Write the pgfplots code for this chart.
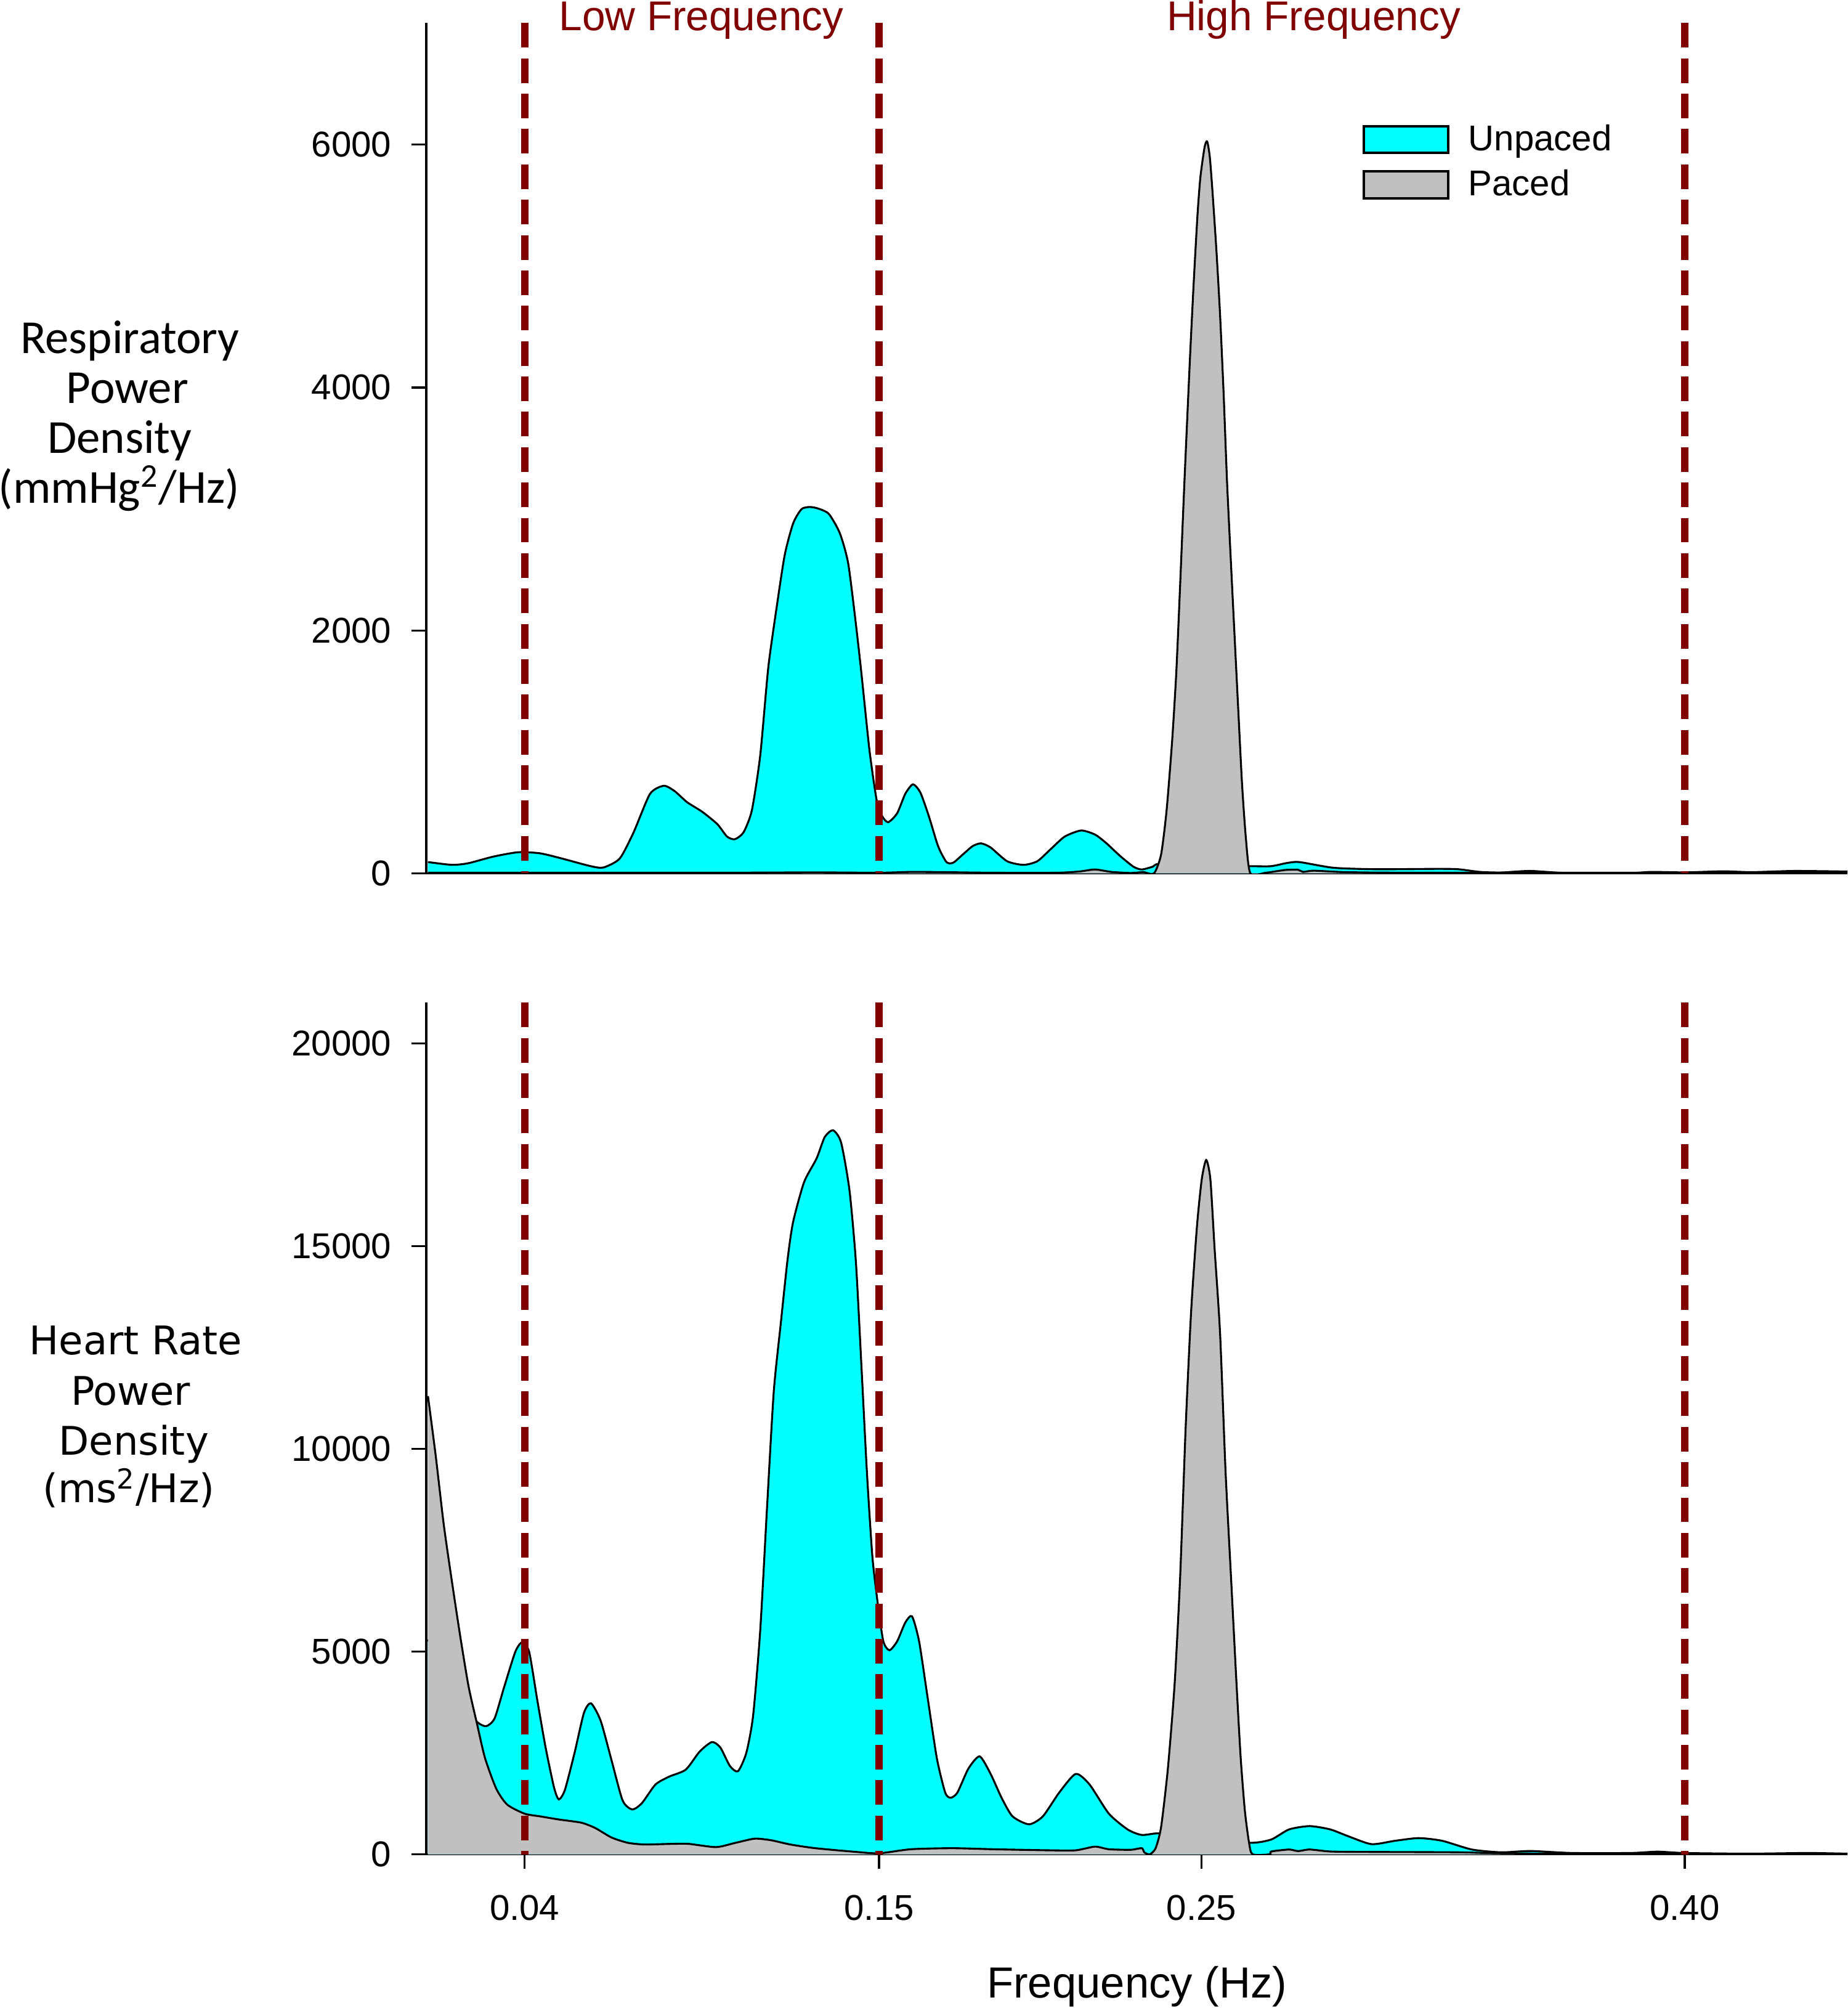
\documentclass[border=0pt]{standalone}
\usepackage{fontspec}
\setmainfont{Liberation Sans}
\newfontfamily\carlito{Carlito}
\newfontfamily\dejavu{DejaVu Sans}
\usepackage{pgfplots}
\usepackage{pgfplotstable}
\pgfplotsset{compat=1.18}
\definecolor{dred}{RGB}{128,0,0}
\definecolor{pgray}{RGB}{192,192,192}
\definecolor{ucyan}{RGB}{0,255,255}

\pgfplotstableread{
f v
0.0100 93
0.0175 70
0.0226 84
0.0303 138
0.0380 174
0.0448 165
0.0516 122
0.0602 61
0.0644 48
0.0695 122
0.0738 337
0.0789 654
0.0832 721
0.0866 676
0.0904 586
0.0951 507
0.0998 405
0.1028 303
0.1052 281
0.1079 337
0.1105 518
0.1131 970
0.1156 1693
0.1182 2190
0.1207 2620
0.1233 2880
0.1259 2998
0.1284 3016
0.1310 3004
0.1344 2959
0.1378 2801
0.1404 2552
0.1428 2050
0.1445 1648
0.1470 1015
0.1492 608
0.1509 473
0.1528 421
0.1556 495
0.1581 654
0.1605 733
0.1628 665
0.1654 473
0.1683 224
0.1709 93
0.1730 88
0.1760 156
0.1790 224
0.1816 247
0.1846 213
0.1897 100
0.1948 70
0.1991 100
0.2033 201
0.2076 303
0.2127 353
0.2170 319
0.2204 251
0.2247 145
0.2289 55
0.2315 32
0.2349 55
0.2366 77
0.2450 65
0.2550 60
0.2656 59
0.2716 59
0.2765 85
0.2804 93
0.2910 46
0.3043 34
0.3231 37
0.3297 34
0.3364 12
0.3430 7
0.3520 20
0.3631 3
0.3831 3
0.3897 12
0.4000 8
0.4119 17
0.4208 10
0.4341 20
0.4505 15
}\topU

\pgfplotstableread{
f v
0.0100 5
0.0500 5
0.1000 5
0.1300 8
0.1500 5
0.1600 12
0.1700 10
0.1850 5
0.2050 5
0.2120 15
0.2170 32
0.2220 12
0.2280 3
0.2320 10
0.2353 0
0.2375 156
0.2392 518
0.2409 1083
0.2422 1648
0.2434 2371
0.2447 3200
0.2464 4209
0.2476 4855
0.2488 5423
0.2497 5733
0.2510 5980
0.2518 6025
0.2526 5900
0.2534 5630
0.2547 5113
0.2558 4596
0.2569 3950
0.2580 3200
0.2596 2326
0.2613 1422
0.2626 744
0.2638 292
0.2652 0
0.2700 5
0.2760 28
0.2800 30
0.2815 12
0.2850 22
0.2950 10
0.3200 5
0.4505 5
}\topP

\pgfplotstableread{
f v
0.0100 5300
0.0150 4450
0.0200 3750
0.0252 3266
0.0281 3161
0.0307 3357
0.0337 4141
0.0371 4993
0.0392 5228
0.0414 4993
0.0439 3815
0.0465 2637
0.0491 1656
0.0506 1355
0.0525 1591
0.0555 2506
0.0584 3488
0.0606 3723
0.0636 3292
0.0670 2310
0.0704 1328
0.0734 1106
0.0764 1263
0.0806 1722
0.0849 1918
0.0900 2088
0.0943 2533
0.0981 2768
0.1007 2637
0.1037 2179
0.1062 2049
0.1088 2506
0.1109 3422
0.1131 5516
0.1152 8526
0.1173 11404
0.1195 13105
0.1216 14675
0.1233 15591
0.1267 16573
0.1306 17161
0.1331 17684
0.1357 17854
0.1382 17553
0.1408 16375
0.1428 14600
0.1445 12058
0.1462 9441
0.1479 7348
0.1496 6170
0.1513 5254
0.1532 5032
0.1556 5254
0.1581 5713
0.1602 5869
0.1624 5254
0.1649 3945
0.1679 2375
0.1705 1525
0.1722 1394
0.1743 1525
0.1777 2114
0.1812 2415
0.1846 1983
0.1880 1394
0.1914 936
0.1965 740
0.2008 936
0.2059 1525
0.2110 1983
0.2153 1722
0.2213 1002
0.2272 609
0.2315 478
0.2366 517
0.2450 450
0.2550 350
0.2657 284
0.2717 366
0.2772 614
0.2836 696
0.2900 614
0.2955 448
0.3028 251
0.3101 334
0.3174 400
0.3247 334
0.3339 119
0.3430 50
0.3522 82
0.3650 33
0.3833 33
0.3915 66
0.3998 33
0.4198 16
0.4381 33
0.4505 16
}\botU

\pgfplotstableread{
f v
0.0100 11300
0.0124 9834
0.0149 8133
0.0175 6693
0.0200 5385
0.0226 4141
0.0252 3226
0.0277 2375
0.0312 1617
0.0346 1225
0.0400 1002
0.0448 936
0.0508 857
0.0576 780
0.0619 649
0.0670 413
0.0721 283
0.0772 243
0.0858 258
0.0909 258
0.0994 178
0.1054 283
0.1114 386
0.1165 347
0.1224 243
0.1301 152
0.1428 60
0.1500 25
0.1598 125
0.1727 151
0.1855 125
0.2030 99
0.2110 99
0.2170 190
0.2213 125
0.2281 112
0.2315 151
0.2323 47
0.2340 0
0.2358 151
0.2375 675
0.2396 2114
0.2417 4208
0.2434 6824
0.2451 10488
0.2468 13366
0.2486 15460
0.2501 16638
0.2515 17122
0.2528 16638
0.2541 14936
0.2558 12843
0.2575 9441
0.2592 6824
0.2609 4208
0.2622 2375
0.2635 1067
0.2648 283
0.2659 0
0.2712 0
0.2717 70
0.2772 119
0.2800 80
0.2836 119
0.2900 70
0.3000 60
0.3300 50
0.3500 20
0.4505 10
}\botP

\pgfplotsset{
  common/.style={
    scale only axis, width=555pt, xmin=0.0095, xmax=0.4505, ymin=0,
    axis x line=bottom, axis y line=left,
    axis line style={-, line width=0.8pt, black},
    tick align=outside, major tick length=5.75pt,
    tick style={line width=0.8pt, black},
    scaled y ticks=false, scaled x ticks=false,
    tick label style={font=\fontsize{14}{16}\selectfont},
    yticklabel style={inner sep=0pt, anchor=east, xshift=-7.75pt},
    xticklabel style={inner sep=0pt, anchor=north, yshift=-10pt},
  },
  fillU/.style={fill=ucyan, draw=none},
  fillP/.style={fill=pgray, draw=none},
  edge/.style={black, line width=0.75pt, forget plot},
  band/.style={dred, line width=2.8pt, dash pattern=on 9.6pt off 4.2pt, forget plot},
}

\begin{document}
\begin{tikzpicture}
\useasboundingbox (0,0) rectangle (721.5pt,784pt);

\begin{axis}[common, at={(166.5pt,443pt)}, anchor=south west, height=332pt,
  ymax=7000, ytick={0,2000,4000,6000}, yticklabels={0,2000,4000,6000},
  xtick=\empty,
  legend style={draw=none, fill=none, at={(0.6586,0.8804)}, anchor=north west,
    inner sep=0pt, outer sep=0pt, row sep=6pt, column sep=7.4pt,
    font=\fontsize{14}{16}\selectfont, nodes={inner sep=0pt}},
  legend cell align=left,
  legend image code/.code={\draw[#1, draw=black, line width=1pt] (0pt,-5.2pt) rectangle (33pt,5.2pt);},
]
\addplot[fillU, smooth, tension=0.4] table[x=f,y=v]{\topU} \closedcycle;
\addlegendentry{Unpaced}
\addplot[edge, smooth, tension=0.4] table[x=f,y=v]{\topU};
\addplot[fillP, smooth, tension=0.4] table[x=f,y=v]{\topP} \closedcycle;
\addlegendentry{Paced}
\addplot[edge, smooth, tension=0.4] table[x=f,y=v]{\topP};
\addplot[band] coordinates {(0.04,7000) (0.04,0)};
\addplot[band] coordinates {(0.15,7000) (0.15,0)};
\addplot[band] coordinates {(0.40,7000) (0.40,0)};
\end{axis}

\begin{axis}[common, at={(166.5pt,60pt)}, anchor=south west, height=332.5pt,
  ymax=21000, ytick={0,5000,10000,15000,20000}, yticklabels={0,5000,10000,15000,20000},
  xtick={0.04,0.15,0.25,0.40}, xticklabels={0.04,0.15,0.25,0.40},
  xlabel={Frequency (Hz)},
  xlabel style={font=\fontsize{17}{20}\selectfont, at={(axis description cs:0.5,0)}, anchor=base, yshift=-56pt, inner sep=0pt},
]
\addplot[fillU, smooth, tension=0.4] table[x=f,y=v]{\botU} \closedcycle;
\addplot[edge, smooth, tension=0.4] table[x=f,y=v]{\botU};
\addplot[fillP, smooth, tension=0.4] table[x=f,y=v]{\botP} \closedcycle;
\addplot[edge, smooth, tension=0.4] table[x=f,y=v]{\botP};
\addplot[band] coordinates {(0.04,21000) (0.04,0)};
\addplot[band] coordinates {(0.15,21000) (0.15,0)};
\addplot[band] coordinates {(0.40,21000) (0.40,0)};
\end{axis}

\begin{scope}[every node/.style={inner sep=0pt, anchor=base}]
\node[text=dred, font=\fontsize{16.25}{18}\selectfont] at (273.85pt,772pt) {Low Frequency};
\node[text=dred, font=\fontsize{16.25}{18}\selectfont] at (513pt,772pt) {High Frequency};
\node[font=\carlito\fontsize{18.5}{22}\selectfont] at (50.75pt,646pt) {Respiratory};
\node[font=\carlito\fontsize{18.5}{22}\selectfont] at (49.75pt,626.5pt) {Power};
\node[font=\carlito\fontsize{18.5}{22}\selectfont] at (46.75pt,607pt) {Density};
\node[font=\carlito\fontsize{18.5}{22}\selectfont] at (46.5pt,587.5pt) {(mmHg\textsuperscript{2}/Hz)};
\node[font=\dejavu\fontsize{15.4}{18}\selectfont] at (53pt,255pt) {Heart Rate};
\node[font=\dejavu\fontsize{15.4}{18}\selectfont] at (51pt,235.5pt) {Power};
\node[font=\dejavu\fontsize{15.4}{18}\selectfont] at (52.25pt,216pt) {Density};
\node[font=\dejavu\fontsize{15.4}{18}\selectfont] at (50.25pt,197.5pt) {(ms\textsuperscript{2}/Hz)};
\end{scope}
\end{tikzpicture}
\end{document}
